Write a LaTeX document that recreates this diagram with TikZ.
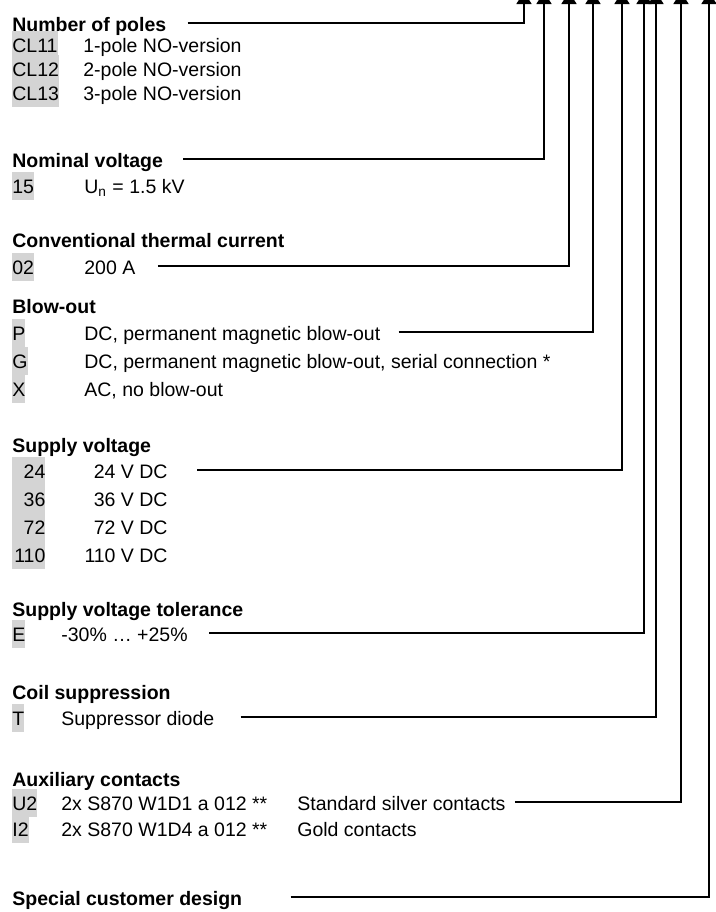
\documentclass[tikz,border=0pt]{standalone}
\usepackage{fontspec}
\setmainfont{Liberation Sans}
\usetikzlibrary{arrows.meta}
\definecolor{codegray}{RGB}{212,212,212}

\begin{document}
\begin{tikzpicture}[ % 1 unit = 1 px of the sheet
x=0.5pt, y=-0.5pt,
head_text/.style={anchor=base west, inner sep=0pt, text height=8pt, text depth=0pt, font=\fontsize{9.75pt}{12pt}\selectfont\bfseries},
item_text/.style={anchor=base west, inner sep=0pt, text height=8pt, text depth=0pt, font=\fontsize{9.75pt}{12pt}\selectfont},
right_text/.style={item_text, anchor=base east},
code_box/.style={anchor=base west, inner xsep=0pt, inner ysep=0pt, fill=codegray, text height=10.5pt, text depth=3.5pt, font=\fontsize{9.75pt}{12pt}\selectfont},
wide_box/.style={code_box, text width=16.5pt, align=right},
out_arrow/.style={-{Triangle[width=7.5pt, length=6pt]}, line width=0.9pt}
]
\useasboundingbox (0,0) rectangle (716,912);
\clip (0,0) rectangle (716,912);

% \node[type](name_of_node) at (x,y) {node_text}

\node[head_text](poles_head) at (12,31) {Number of poles};
\node[code_box](cl11) at (12,52) {CL11};
\node[item_text](cl11_txt) at (83,52) {1-pole NO-version};
\node[code_box](cl12) at (12,76) {CL12};
\node[item_text](cl12_txt) at (83,76) {2-pole NO-version};
\node[code_box](cl13) at (12,100) {CL13};
\node[item_text](cl13_txt) at (83,100) {3-pole NO-version};

\node[head_text](voltage_head) at (12,167) {Nominal voltage};
\node[code_box](c15) at (12,193) {15};
\node[item_text](c15_txt) at (84,193) {U\textsubscript{n} = 1.5 kV};

\node[head_text](current_head) at (12,247) {Conventional thermal current};
\node[code_box](c02) at (12,274) {02};
\node[item_text](c02_txt) at (84,274) {200 A};

\node[head_text](blowout_head) at (12,313) {Blow-out};
\node[code_box](cP) at (12,340) {P};
\node[item_text](cP_txt) at (84,340) {DC, permanent magnetic blow-out};
\node[code_box](cG) at (12,368) {G};
\node[item_text](cG_txt) at (84,368) {DC, permanent magnetic blow-out, serial connection *};
\node[code_box](cX) at (12,396) {X};
\node[item_text](cX_txt) at (84,396) {AC, no blow-out};

\node[head_text](supply_head) at (12,452) {Supply voltage};
\node[wide_box](c24) at (12,478) {24};
\node[right_text](c24_txt) at (168,478) {24 V DC};
\node[wide_box](c36) at (12,506) {36};
\node[right_text](c36_txt) at (168,506) {36 V DC};
\node[wide_box](c72) at (12,534) {72};
\node[right_text](c72_txt) at (168,534) {72 V DC};
\node[wide_box](c110) at (12,562) {110};
\node[right_text](c110_txt) at (168,562) {110 V DC};

\node[head_text](tolerance_head) at (12,616) {Supply voltage tolerance};
\node[code_box](cE) at (12,641) {E};
\node[item_text](cE_txt) at (61,641) {-30\% … +25\%};

\node[head_text](coil_head) at (12,699) {Coil suppression};
\node[code_box](cT) at (12,725) {T};
\node[item_text](cT_txt) at (61,725) {Suppressor diode};

\node[head_text](aux_head) at (12,786) {Auxiliary contacts};
\node[code_box](cU2) at (12,810) {U2};
\node[item_text](cU2_type) at (61,810) {2x S870 W1D1 a 012 **};
\node[item_text](cU2_txt) at (297,810) {Standard silver contacts};
\node[code_box](cI2) at (12,836) {I2};
\node[item_text](cI2_type) at (61,836) {2x S870 W1D4 a 012 **};
\node[item_text](cI2_txt) at (297,836) {Gold contacts};

\node[head_text](special_head) at (12,905) {Special customer design};

% arrow tips sit just above the sheet
\coordinate (tip1) at (524,-8);
\coordinate (tip2) at (544,-8);
\coordinate (tip3) at (569,-8);
\coordinate (tip4) at (593,-8);
\coordinate (tip5) at (622,-8);
\coordinate (tip6) at (644,-8);
\coordinate (tip7) at (656,-8);
\coordinate (tip8) at (681,-8);
\coordinate (tip9) at (709,-8);

\draw[out_arrow, shorten <=10.5pt](poles_head.east) -| (tip1);
\draw[out_arrow, shorten <=10pt](voltage_head.east) -| (tip2);
\draw[out_arrow, shorten <=11pt](c02_txt.east) -| (tip3);
\draw[out_arrow, shorten <=9pt](cP_txt.east) -| (tip4);
\draw[out_arrow, shorten <=14.5pt](c24_txt.east) -| (tip5);
\draw[out_arrow, shorten <=10.5pt](cE_txt.east) -| (tip6);
\draw[out_arrow, shorten <=13pt](cT_txt.east) -| (tip7);
\draw[out_arrow, shorten <=4.5pt](cU2_txt.east) -| (tip8);
\draw[out_arrow, shorten <=24pt](special_head.east) -| (tip9);

\end{tikzpicture}
\end{document}
